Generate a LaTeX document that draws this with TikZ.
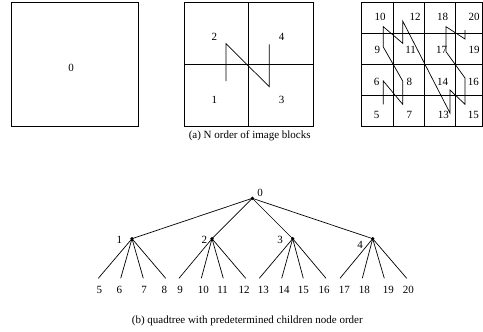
\documentclass[tikz,border=0pt]{standalone}
\usepackage{fontspec}
\setmainfont{Liberation Serif}
\begin{document}
\begin{tikzpicture}[x=1pt,y=-1pt,
  frame/.style={draw=black,line width=0.8pt},
  gridline/.style={draw=black,line width=0.7pt},
  curve/.style={draw=black,line width=0.7pt},
  lbl/.style={inner sep=0pt,font=\fontsize{11}{13}\selectfont},
  captext/.style={inner sep=0pt,font=\fontsize{11}{13}\selectfont},
  dot/.style={circle,fill=black,inner sep=0pt,minimum size=3.6pt},
  edge/.style={draw=black,line width=0.7pt}]
\useasboundingbox (0,0) rectangle (483,332);
% (a) block 0
\node[frame,minimum width=127.5pt,minimum height=124pt,inner sep=0pt] (b0) at (74.75,64.5) {};
\node[lbl] (t0) at (71,68) {0};
% block split in 4
\node[frame,minimum width=129pt,minimum height=124pt,inner sep=0pt] (b1) at (248.8,64.5) {};
\draw[gridline] (b1.north) -- (b1.south);
\draw[gridline] (b1.west) -- (b1.east);
\node[lbl] (t2) at (214.3,36.7) {2};
\node[lbl] (t4) at (281.7,36.7) {4};
\node[lbl] (t1) at (214.3,100) {1};
\node[lbl] (t3) at (281.7,100) {3};
\coordinate (n1) at (226,81);
\coordinate (n2) at (226,43.7);
\coordinate (n3) at (269.3,86.7);
\coordinate (n4) at (269.3,44.3);
\draw[curve] (n1) -- (n2) -- (n3) -- (n4);
% block split in 16
\node[frame,minimum width=121.5pt,minimum height=124pt,inner sep=0pt] (b2) at (421.75,64.5) {};
\foreach \xx in {393,424.3,455.3} \draw[gridline] (\xx,2.5) -- (\xx,126.5);
\foreach \yy in {33.3,64.3,95.3} \draw[gridline] (361,\yy) -- (482.5,\yy);
\node[lbl] (c10) at (380,16.7) {10};
\node[lbl] (c12) at (415,16.7) {12};
\node[lbl] (c18) at (442.7,16.7) {18};
\node[lbl] (c20) at (474,16.7) {20};
\node[lbl] (c9) at (377.3,50) {9};
\node[lbl] (c11) at (410.7,50) {11};
\node[lbl] (c17) at (441.7,50) {17};
\node[lbl] (c19) at (474,50) {19};
\node[lbl] (c6) at (376.7,81.7) {6};
\node[lbl] (c8) at (409.3,81.7) {8};
\node[lbl] (c14) at (442.7,81.7) {14};
\node[lbl] (c16) at (473.3,81.7) {16};
\node[lbl] (c5) at (376.7,115) {5};
\node[lbl] (c7) at (409.3,115) {7};
\node[lbl] (c13) at (443.3,115) {13};
\node[lbl] (c15) at (473.3,115) {15};
\coordinate (p5) at (383.3,104.3);
\coordinate (p6) at (383.3,81);
\coordinate (p7) at (402.7,104.3);
\coordinate (p8) at (402.7,81);
\coordinate (p9) at (383.3,47);
\coordinate (p10) at (383.3,26.7);
\coordinate (p11) at (402.7,43.3);
\coordinate (p12) at (402.7,21);
\coordinate (p13) at (450,113);
\coordinate (p14) at (450,90);
\coordinate (p15) at (465,104.3);
\coordinate (p16) at (465,78);
\coordinate (p17) at (446,51.7);
\coordinate (p18) at (446,26.7);
\coordinate (p19) at (465,39);
\coordinate (p20) at (465,30);
\draw[curve] (p5) -- (p6) -- (p7) -- (p8) -- (p9) -- (p10) -- (p11) -- (p12) -- (p13) -- (p14) -- (p15) -- (p16) -- (p17) -- (p18) -- (p19) -- (p20);
\node[captext] (capa) at (249.7,136) {(a) N order of image blocks};
% (b) quadtree
\node[dot] (r) at (252.3,198.3) {};
\node[lbl] (r0) at (260,193.3) {0};
\node[dot] (q1) at (132,238.7) {};
\node[dot] (q2) at (212,238.7) {};
\node[dot] (q3) at (292.7,238.7) {};
\node[dot] (q4) at (372.7,238.7) {};
\node[lbl] (q1l) at (119.3,240) {1};
\node[lbl] (q2l) at (204.3,240) {2};
\node[lbl] (q3l) at (280,240) {3};
\node[lbl] (q4l) at (360,245.3) {4};
\foreach \q in {1,2,3,4} \draw[edge] (r.center) -- (q\q.center);
\foreach \n/\xx in {5/98.3,6/120.7,7/143.3,8/165.7,9/179,10/201.3,11/223.3,12/245.7,13/259.3,14/281.7,15/303.3,16/326,17/340,18/362.3,19/384.3,20/406.7}
  \coordinate (e\n) at (\xx,278.3);
\foreach \n/\xx in {5/99.3,6/119.3,7/144,8/164.3,9/180,10/203.3,11/222.7,12/244,13/263.3,14/284,15/303.3,16/324,17/344.3,18/364.3,19/388.3,20/408.3}
  \node[lbl] (l\n) at (\xx,290) {\n};
\foreach \n in {5,6,7,8} \draw[edge] (q1.center) -- (e\n);
\foreach \n in {9,10,11,12} \draw[edge] (q2.center) -- (e\n);
\foreach \n in {13,14,15,16} \draw[edge] (q3.center) -- (e\n);
\foreach \n in {17,18,19,20} \draw[edge] (q4.center) -- (e\n);
\node[captext] (capb) at (247.3,320.7) {(b) quadtree with predetermined children node order};
\end{tikzpicture}
\end{document}
